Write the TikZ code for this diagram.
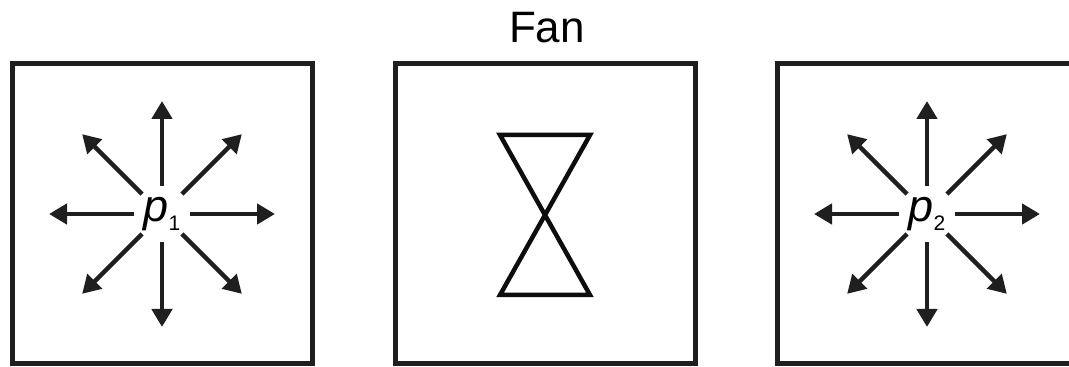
\documentclass[tikz,border=0pt]{standalone}
\usepackage{fontspec}
\setmainfont{Liberation Sans}
\usetikzlibrary{arrows.meta,calc}
\begin{document}
\begin{tikzpicture}[x=1pt, y=1pt,
		panel/.style={draw=black!88, line width=5pt, minimum size=300pt, inner sep=0pt},
		ray/.style={draw=black!88, line width=4.5pt, -{Triangle[length=18pt,width=20pt]}},
		pointlbl/.style={circle, minimum size=56pt, inner sep=0pt, font=\fontsize{45}{45}\selectfont}]
	\useasboundingbox (0,0) rectangle (1069,367);

	% Заголовок
	\node[font=\fontsize{44}{44}\selectfont] (title) at (547,339) {Fan};

	% Рамки
	\node[panel] (left) at (162,153) {};
	\node[panel] (mid) at (545,153) {};
	\node[panel] (right) at (927,153) {};

	% Точки p1 и p2
	\node[pointlbl] (p1) at (left.center) {\textit{p}\raisebox{-9pt}{\fontsize{21}{21}\selectfont 1}};
	\node[pointlbl] (p2) at (right.center) {\textit{p}\raisebox{-9pt}{\fontsize{21}{21}\selectfont 2}};

	% Лучи
	\foreach \a in {0,45,...,315} {
		\draw[ray] (p1.\a) -- ($(p1.center)+(\a:113)$);
		\draw[ray] (p2.\a) -- ($(p2.center)+(\a:113)$);
	}

	% Песочные часы
	\draw[draw=black!95, line width=4.5pt, line join=miter]
		($(mid.center)+(-45,79)$) -- ($(mid.center)+(45,79)$)
		-- ($(mid.center)+(-45,-81)$) -- ($(mid.center)+(45,-81)$) -- cycle;
\end{tikzpicture}
\end{document}
